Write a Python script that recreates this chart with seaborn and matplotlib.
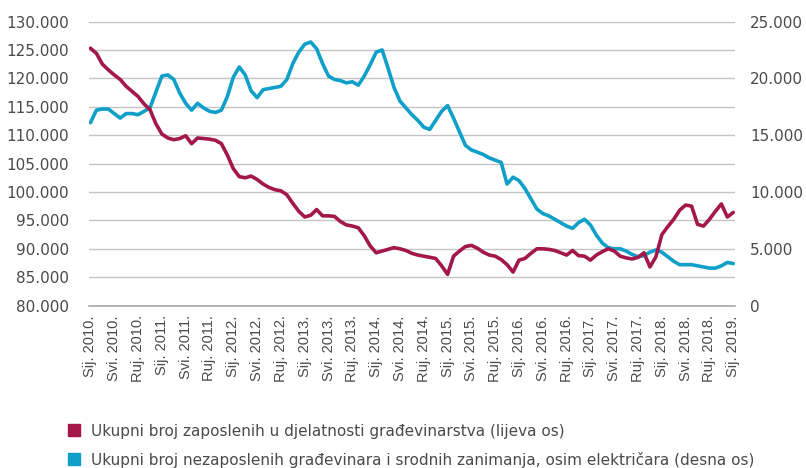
import matplotlib
matplotlib.use("Agg")
import matplotlib.pyplot as plt
import pandas as pd
import seaborn as sns
from matplotlib.patches import Patch
from matplotlib.ticker import FuncFormatter, MultipleLocator

# monthly values, Jan 2010 - Jan 2019, in thousands
employed_k = [
    125.3, 124.4, 122.5, 121.5, 120.6, 119.8, 118.6, 117.7, 116.8, 115.5, 114.5, 112.0,
    110.2, 109.5, 109.2, 109.4, 109.9, 108.5, 109.5, 109.4, 109.3, 109.1, 108.5, 106.5,
    104.1, 102.7, 102.5, 102.8, 102.2, 101.4, 100.8, 100.4, 100.2, 99.5, 98.0, 96.6,
    95.6, 95.9, 96.9, 95.8, 95.8, 95.7, 94.8, 94.2, 94.0, 93.7, 92.3, 90.5,
    89.3, 89.6, 89.9, 90.2, 90.0, 89.7, 89.2, 88.9, 88.7, 88.5, 88.3, 87.0,
    85.5, 88.7, 89.6, 90.4, 90.6, 90.1, 89.4, 88.9, 88.7, 88.1, 87.2, 85.9,
    88.0, 88.3, 89.2, 90.0, 90.0, 89.9, 89.7, 89.3, 88.9, 89.7, 88.8, 88.7,
    88.0, 88.9, 89.5, 90.0, 89.6, 88.7, 88.4, 88.2, 88.5, 89.3, 86.8, 88.6,
    92.5, 93.9, 95.2, 96.8, 97.7, 97.5, 94.3, 94.0, 95.2, 96.6, 97.9, 95.6,
    96.4,
]
unemployed_k = [
    16.1, 17.2, 17.3, 17.3, 16.9, 16.5, 16.9, 16.9, 16.8, 17.1, 17.4, 18.8,
    20.2, 20.3, 19.9, 18.7, 17.8, 17.2, 17.8, 17.4, 17.1, 17.0, 17.2, 18.4,
    20.1, 21.0, 20.3, 18.9, 18.3, 19.0, 19.1, 19.2, 19.3, 19.9, 21.3, 22.3,
    23.0, 23.2, 22.6, 21.3, 20.2, 19.9, 19.8, 19.6, 19.7, 19.4, 20.2, 21.2,
    22.3, 22.5, 20.9, 19.2, 18.0, 17.4, 16.8, 16.3, 15.7, 15.5, 16.3, 17.1,
    17.6, 16.5, 15.3, 14.1, 13.7, 13.5, 13.3, 13.0, 12.8, 12.6, 10.7, 11.3,
    11.0, 10.3, 9.4, 8.5, 8.1, 7.9, 7.6, 7.3, 7.0, 6.8, 7.3, 7.6,
    7.1, 6.2, 5.5, 5.1, 5.0, 5.0, 4.8, 4.5, 4.3, 4.4, 4.7, 4.9,
    4.7, 4.3, 3.9, 3.6, 3.6, 3.6, 3.5, 3.4, 3.3, 3.3, 3.5, 3.8,
    3.7,
]
tick_labels = [
    "Sij. 2010.", "Svi. 2010.", "Ruj. 2010.", "Sij. 2011.", "Svi. 2011.", "Ruj. 2011.",
    "Sij. 2012.", "Svi. 2012.", "Ruj. 2012.", "Sij. 2013.", "Svi. 2013.", "Ruj. 2013.",
    "Sij. 2014.", "Svi. 2014.", "Ruj. 2014.", "Sij. 2015.", "Svi. 2015.", "Ruj. 2015.",
    "Sij. 2016.", "Svi. 2016.", "Ruj. 2016.", "Sij. 2017.", "Svi. 2017.", "Ruj. 2017.",
    "Sij. 2018.", "Svi. 2018.", "Ruj. 2018.", "Sij. 2019.",
]
label_employed = "Ukupni broj zaposlenih u djelatnosti građevinarstva (lijeva os)"
label_unemployed = "Ukupni broj nezaposlenih građevinara i srodnih zanimanja, osim električara (desna os)"

RED = "#a3174b"
BLUE = "#0fa0c9"
GRID = "#c4c4c4"
TEXT = "#4a4a4a"

df = pd.DataFrame({
    "month": range(len(employed_k)),
    "employed": [v * 1000 for v in employed_k],
    "unemployed": [v * 1000 for v in unemployed_k],
})


def thousands(v, _pos):
    return f"{int(round(v)):,}".replace(",", ".")


sns.set_theme(style="white")
plt.rcParams["font.family"] = ["DejaVu Sans"]

fig = plt.figure(figsize=(8.06, 4.68), dpi=100)
ax = fig.add_axes([0.110, 0.347, 0.802, 0.607])
ax2 = ax.twinx()

# red series sits on top, grid comes from the lower (right) axis
ax.set_zorder(ax2.get_zorder() + 1)
ax.patch.set_visible(False)

sns.lineplot(data=df, x="month", y="unemployed", ax=ax2, color=BLUE, linewidth=2.6)
sns.lineplot(data=df, x="month", y="employed", ax=ax, color=RED, linewidth=2.6)

ax.set_xlim(-0.3, 108.3)
ax.set_ylim(80000, 130000)
ax2.set_ylim(0, 25000)
ax.yaxis.set_major_locator(MultipleLocator(5000))
ax2.yaxis.set_major_locator(MultipleLocator(5000))
ax2.yaxis.set_minor_locator(MultipleLocator(2500))
ax.yaxis.set_major_formatter(FuncFormatter(thousands))
ax2.yaxis.set_major_formatter(FuncFormatter(thousands))
ax2.grid(axis="y", which="both", color=GRID, linewidth=1.0)
ax.grid(False)

ax.set_xticks(range(0, len(employed_k), 4))
ax.set_xticklabels(tick_labels, rotation=90, family=["Liberation Sans", "DejaVu Sans"])
ax.set_xlabel("")
ax.set_ylabel("")
ax2.set_ylabel("")

for a in (ax, ax2):
    for s in a.spines.values():
        s.set_visible(False)
ax.spines["bottom"].set_visible(True)
ax.spines["bottom"].set_color("#a8a8a8")
ax.spines["bottom"].set_linewidth(1.2)

ax.tick_params(axis="x", length=3, width=1, color="#a8a8a8", labelsize=10.5, labelcolor=TEXT, pad=4)
ax.tick_params(axis="y", length=0, pad=14, labelsize=11, labelcolor=TEXT)
ax2.tick_params(axis="y", which="both", length=0, pad=11, labelsize=11, labelcolor=TEXT)
ax2.tick_params(axis="x", length=0)

handles = [Patch(color=RED, label=label_employed), Patch(color=BLUE, label=label_unemployed)]
fig.legend(handles=handles, loc="upper left", bbox_to_anchor=(0.084, 0.095),
           frameon=False, fontsize=11, handlelength=0.8, handleheight=0.8,
           handletextpad=0.75, labelspacing=0.85, borderpad=0, borderaxespad=0,
           labelcolor=TEXT)

fig.savefig("out.png", dpi=100)
